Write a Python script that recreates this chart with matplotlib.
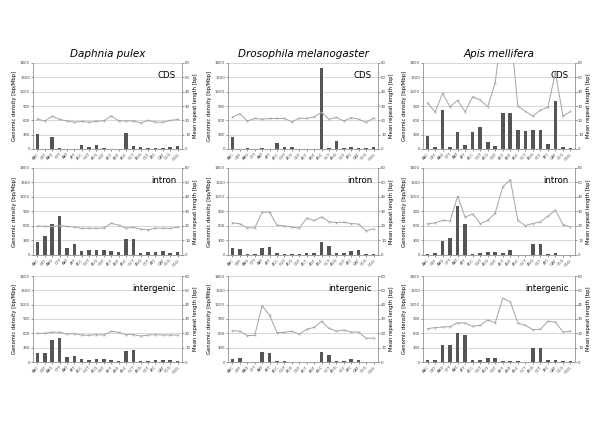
import numpy as np
import matplotlib
matplotlib.use("Agg")
import matplotlib.pyplot as plt

# repeat classes (x axis)
motifs = ["AAC", "GTT", "AAG", "CTT", "AAT", "ATT", "ACC", "GGT", "ACG", "CGT",
          "ACT", "AGT", "AGC", "GCT", "AGG", "CCT", "ATC", "GAT", "CCG", "CGG"]
species = ["Daphnia pulex", "Drosophila melanogaster", "Apis mellifera"]
regions = ["CDS", "intron", "intergenic"]

# genomic density [bp/Mbp] (bars, left axis)
dpul_cds_dens = [320, 5, 253, 20, 0, 0, 90, 35, 90, 28, 0, 0, 337, 63, 35, 20, 15, 14, 50, 70]
dmel_cds_dens = [260, 0, 20, 0, 20, 0, 120, 42, 42, 10, 0, 0, 1700, 20, 160, 12, 35, 20, 20, 45]
amel_cds_dens = [281, 49, 814, 49, 365, 84, 351, 463, 154, 70, 758, 744, 407, 372, 393, 407, 98, 996, 49, 14]
dpul_int_dens = [267, 391, 638, 816, 137, 219, 89, 96, 96, 110, 75, 69, 322, 336, 48, 55, 69, 75, 48, 55]
dmel_int_dens = [144, 123, 14, 14, 144, 165, 41, 27, 21, 27, 34, 34, 267, 178, 34, 34, 82, 96, 14, 14]
amel_int_dens = [14, 34, 281, 343, 1008, 645, 27, 34, 55, 55, 48, 110, 0, 0, 219, 226, 27, 48, 7, 7]
dpul_ig_dens = [188, 195, 467, 495, 112, 119, 63, 49, 70, 63, 35, 28, 230, 251, 21, 21, 35, 35, 35, 28]
dmel_ig_dens = [70, 91, 7, 7, 209, 188, 14, 21, 7, 7, 7, 7, 216, 153, 14, 14, 56, 49, 7, 7]
amel_ig_dens = [35, 42, 356, 356, 600, 565, 35, 35, 77, 77, 28, 28, 21, 7, 300, 300, 35, 35, 14, 21]

# mean repeat length [bp] (line, right axis)
dpul_cds_len = [21.0, 19.4, 22.9, 20.6, 19.6, 18.7, 19.2, 18.7, 19.4, 19.6, 23.2, 19.6, 19.6, 19.6, 18.2, 19.9, 18.7, 18.7, 19.9, 20.6]
dmel_cds_len = [22.2, 24.6, 19.6, 21.3, 20.8, 21.3, 21.3, 21.3, 18.9, 21.5, 21.3, 22.5, 25.5, 20.8, 22.0, 19.6, 21.8, 20.8, 18.5, 21.5]
amel_cds_len = [32.3, 25.7, 38.8, 29.5, 33.9, 26.0, 36.5, 34.2, 29.5, 46.3, 90.0, 85.0, 29.9, 26.4, 22.9, 27.1, 29.2, 53.3, 22.9, 26.2]
dpul_int_len = [20.1, 19.7, 19.7, 20.3, 19.7, 19.4, 18.3, 18.5, 18.3, 18.7, 21.9, 20.6, 18.5, 19.2, 17.8, 17.4, 18.5, 18.5, 18.3, 19.2]
dmel_int_len = [22.2, 21.5, 18.7, 18.7, 29.5, 29.5, 20.6, 20.1, 19.2, 18.5, 25.4, 23.8, 26.3, 22.9, 22.4, 22.6, 21.7, 21.3, 16.7, 18.1]
amel_int_len = [21.5, 22.2, 23.8, 23.5, 40.5, 26.1, 28.3, 21.7, 23.8, 29.0, 47.0, 52.0, 23.8, 20.3, 21.7, 22.9, 26.8, 30.9, 21.0, 19.4]
dpul_ig_len = [20.0, 20.0, 20.9, 20.7, 19.5, 19.8, 18.8, 18.6, 19.1, 18.8, 21.4, 20.7, 19.1, 19.1, 18.1, 18.8, 19.1, 18.8, 18.8, 18.8]
dmel_ig_len = [21.9, 21.4, 18.4, 18.6, 39.3, 32.6, 20.5, 20.7, 21.4, 19.5, 22.8, 24.2, 28.4, 23.5, 21.6, 22.3, 20.9, 20.9, 16.5, 16.7]
amel_ig_len = [23.3, 24.0, 24.4, 24.7, 27.4, 27.2, 24.9, 25.6, 29.3, 27.4, 44.5, 42.0, 27.2, 25.6, 22.6, 22.8, 28.4, 27.9, 20.9, 21.6]

density = [[dpul_cds_dens, dmel_cds_dens, amel_cds_dens],
           [dpul_int_dens, dmel_int_dens, amel_int_dens],
           [dpul_ig_dens, dmel_ig_dens, amel_ig_dens]]
length = [[dpul_cds_len, dmel_cds_len, amel_cds_len],
          [dpul_int_len, dmel_int_len, amel_int_len],
          [dpul_ig_len, dmel_ig_len, amel_ig_len]]

W, H = 600, 424
fig = plt.figure(figsize=(6, 4.24), dpi=100)

col_px = [(33, 182), (228, 378), (423, 575)]
row_px = [(63, 149), (168, 255), (276, 362)]
grid_c = "#c8c8c8"
x = np.arange(len(motifs))

for r in range(3):
    for c in range(3):
        x0, x1 = col_px[c]
        y0, y1 = row_px[r]
        ax = fig.add_axes([x0 / W, 1 - y1 / H, (x1 - x0) / W, (y1 - y0) / H])
        ax.bar(x, density[r][c], width=0.48, color="#555555", zorder=2)
        ax.set_xlim(-0.6, len(motifs) - 0.4)
        ax.set_ylim(0, 1800)
        ax.set_yticks(np.arange(0, 1801, 300))
        ax.yaxis.grid(True, color=grid_c, lw=0.5, zorder=0)
        ax.set_axisbelow(True)
        ax.set_xticks(x)
        ax.set_xticklabels(motifs, rotation=45, ha="right", rotation_mode="anchor")
        ax.tick_params(axis="both", labelsize=2.8, length=1.2, width=0.4,
                       colors="#444444", pad=1)
        ax.set_ylabel("Genomic density [bp/Mbp]", fontsize=3.8, labelpad=2)
        ax.spines["top"].set_visible(False)
        for s in ["left", "right", "bottom"]:
            ax.spines[s].set_color("#999999")
            ax.spines[s].set_linewidth(0.5)

        ax2 = ax.twinx()
        ax2.plot(x, length[r][c], color="#a4a4a4", lw=0.7, marker="x",
                 markersize=1.4, markeredgewidth=0.4)
        ax2.set_ylim(0, 60)
        ax2.set_yticks(np.arange(0, 61, 10))
        ax2.tick_params(axis="y", labelsize=2.8, length=1.2, width=0.4,
                        colors="#444444", pad=1)
        ax2.set_ylabel("Mean repeat length [bp]", fontsize=3.8, labelpad=2,
                       rotation=90)
        ax2.spines["top"].set_visible(False)
        for s in ["left", "right", "bottom"]:
            ax2.spines[s].set_color("#999999")
            ax2.spines[s].set_linewidth(0.5)

        ax.text(0.96, 0.86, regions[r], transform=ax.transAxes, ha="right",
                va="center", fontsize=6.2, zorder=5)

        if r == 0:
            ax.set_title(species[c], fontsize=7.5, style="italic", pad=4)

fig.savefig("out.png", dpi=100)
